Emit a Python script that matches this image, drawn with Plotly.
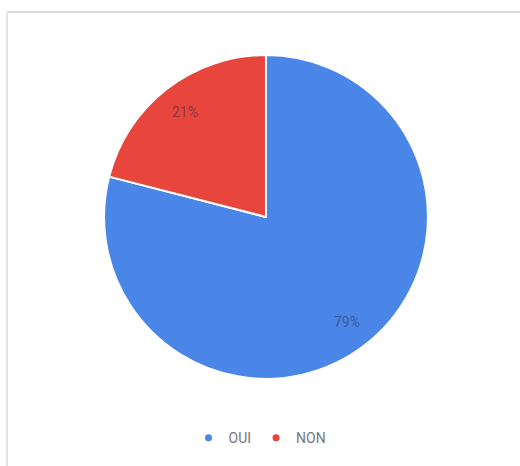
import math
import plotly.graph_objects as go

# Survey answers
labels = ["OUI", "NON"]
values = [79, 21]
colors = ["#4a86e8", "#e8453c"]

W, H = 520, 466
dom_x = [0.2, 0.823]
dom_y = [0.187, 0.882]

fig = go.Figure(
    go.Pie(
        labels=labels,
        values=values,
        sort=False,
        direction="clockwise",
        rotation=0,
        marker=dict(colors=colors, line=dict(color="white", width=2)),
        textinfo="none",
        domain=dict(x=dom_x, y=dom_y),
        hoverinfo="label+percent",
        showlegend=False,
    )
)

# Round legend markers, one per answer
for lab, col in zip(labels, colors):
    fig.add_trace(
        go.Scatter(
            x=[None], y=[None], mode="markers", name=lab,
            marker=dict(symbol="circle", size=7, color=col),
            showlegend=True, hoverinfo="skip",
        )
    )

# Percent labels placed along each slice's bisector
total = sum(values)
cx = (dom_x[0] + dom_x[1]) / 2
cy = (dom_y[0] + dom_y[1]) / 2
radius_px = min((dom_x[1] - dom_x[0]) * W, (dom_y[1] - dom_y[0]) * H) / 2
annotations = []
start = 0.0
for v in values:
    frac = v / total
    mid = (start + frac / 2) * 2 * math.pi
    start += frac
    r = 0.82 * radius_px
    annotations.append(dict(
        x=cx + r * math.sin(mid) / W,
        y=cy + r * math.cos(mid) / H,
        xref="paper", yref="paper", showarrow=False,
        xanchor="center", yanchor="middle",
        text=f"{round(frac * 100)}%",
        font=dict(family="Roboto, Arial, sans-serif", size=14, color="rgba(40,40,70,0.5)"),
    ))

fig.update_layout(
    width=W,
    height=H,
    margin=dict(l=0, r=0, t=0, b=0),
    paper_bgcolor="white",
    plot_bgcolor="white",
    xaxis=dict(visible=False),
    yaxis=dict(visible=False),
    showlegend=True,
    legend=dict(
        orientation="h",
        x=0.5,
        xanchor="center",
        y=0.06,
        yanchor="middle",
        font=dict(family="Roboto, Arial, sans-serif", size=14, color="#777"),
        itemwidth=30,
        tracegroupgap=0,
    ),
    annotations=annotations,
    shapes=[
        dict(type="line", xref="paper", yref="paper", x0=7 / W, x1=1, y0=1 - 12 / H, y1=1 - 12 / H,
             line=dict(color="#dcdcdc", width=2)),
        dict(type="line", xref="paper", yref="paper", x0=7 / W, x1=7 / W, y0=0, y1=1 - 12 / H,
             line=dict(color="#e4e4e4", width=2)),
    ],
)

fig.write_html("out.html")
